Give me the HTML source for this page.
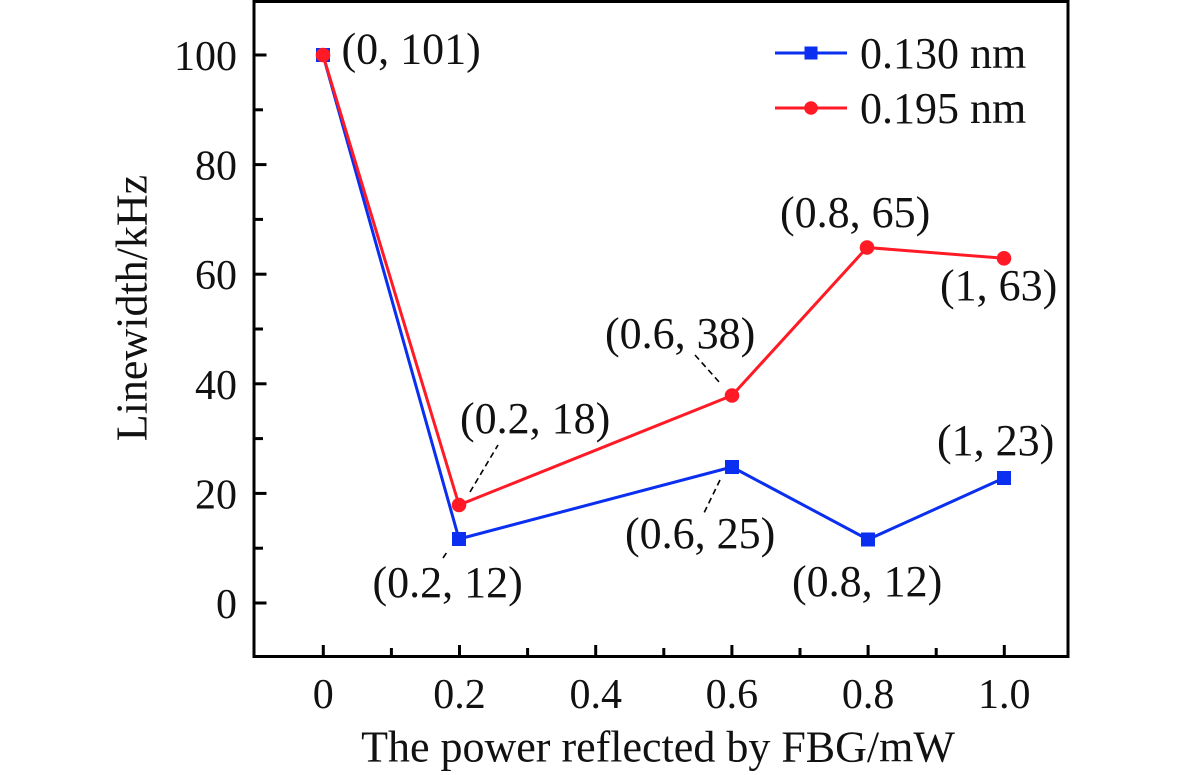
<!DOCTYPE html>
<html>
<head>
<meta charset="utf-8">
<style>
html,body{margin:0;padding:0;background:#fff;}
svg{display:block;}
text{font-family:"Liberation Serif","Times New Roman",serif;fill:#111;}
</style>
</head>
<body>
<svg width="1181" height="775" viewBox="0 0 1181 775" xmlns="http://www.w3.org/2000/svg">
<rect width="1181" height="775" fill="#fff"/>
<!-- axes box -->
<rect x="254" y="1.5" width="814" height="655" fill="none" stroke="#000" stroke-width="3"/>
<!-- y ticks -->
<g stroke="#000" stroke-width="3">
<line x1="254" y1="55" x2="266.5" y2="55"/>
<line x1="254" y1="109.8" x2="263" y2="109.8"/>
<line x1="254" y1="164.6" x2="266.5" y2="164.6"/>
<line x1="254" y1="219.4" x2="263" y2="219.4"/>
<line x1="254" y1="274.2" x2="266.5" y2="274.2"/>
<line x1="254" y1="329" x2="263" y2="329"/>
<line x1="254" y1="383.8" x2="266.5" y2="383.8"/>
<line x1="254" y1="438.6" x2="263" y2="438.6"/>
<line x1="254" y1="493.4" x2="266.5" y2="493.4"/>
<line x1="254" y1="548.2" x2="263" y2="548.2"/>
<line x1="254" y1="603" x2="266.5" y2="603"/>
<!-- x ticks -->
<line x1="323.3" y1="656.5" x2="323.3" y2="645"/>
<line x1="391.4" y1="656.5" x2="391.4" y2="648"/>
<line x1="459.5" y1="656.5" x2="459.5" y2="645"/>
<line x1="527.6" y1="656.5" x2="527.6" y2="648"/>
<line x1="595.7" y1="656.5" x2="595.7" y2="645"/>
<line x1="663.8" y1="656.5" x2="663.8" y2="648"/>
<line x1="731.9" y1="656.5" x2="731.9" y2="645"/>
<line x1="800" y1="656.5" x2="800" y2="648"/>
<line x1="868.1" y1="656.5" x2="868.1" y2="645"/>
<line x1="936.2" y1="656.5" x2="936.2" y2="648"/>
<line x1="1004.3" y1="656.5" x2="1004.3" y2="645"/>
</g>
<!-- y tick labels -->
<g font-size="42" text-anchor="end">
<text x="237" y="70">100</text>
<text x="237" y="179.6">80</text>
<text x="237" y="289.2">60</text>
<text x="237" y="398.8">40</text>
<text x="237" y="508.4">20</text>
<text x="237" y="618">0</text>
</g>
<!-- x tick labels -->
<g font-size="42" text-anchor="middle">
<text x="323.3" y="708">0</text>
<text x="459.5" y="708">0.2</text>
<text x="595.7" y="708">0.4</text>
<text x="731.9" y="708">0.6</text>
<text x="868.1" y="708">0.8</text>
<text x="1004.3" y="708">1.0</text>
</g>
<!-- axis titles -->
<text x="658" y="761.5" font-size="44" text-anchor="middle">The power reflected by FBG/mW</text>
<text transform="translate(146.5,308) rotate(-90)" font-size="44" text-anchor="middle">Linewidth/kHz</text>
<!-- series blue -->
<polyline points="323,55 459,539 732,467 868,539.5 1004,478" fill="none" stroke="#0a2ff0" stroke-width="3" stroke-linejoin="round"/>
<g fill="#0a2ff0">
<rect x="316" y="48" width="14" height="14"/>
<rect x="452" y="532" width="14" height="14"/>
<rect x="725" y="460" width="14" height="14"/>
<rect x="861" y="532.5" width="14" height="14"/>
<rect x="997" y="471" width="14" height="14"/>
</g>
<!-- series red -->
<polyline points="323,55 459,505 732,395.5 867,247.5 1004,258.3" fill="none" stroke="#ff1a26" stroke-width="3" stroke-linejoin="round"/>
<g fill="#ff1a26">
<circle cx="323" cy="55" r="7.3"/>
<circle cx="459" cy="505" r="7.3"/>
<circle cx="732" cy="395.5" r="7.3"/>
<circle cx="867" cy="247.5" r="7.3"/>
<circle cx="1004" cy="258.3" r="7.3"/>
</g>
<!-- leader lines -->
<g stroke="#000" stroke-width="1.6" stroke-dasharray="6,4" fill="none">
<line x1="470" y1="492" x2="498" y2="445"/>
<line x1="443" y1="558" x2="447" y2="552"/>
<line x1="720" y1="480" x2="703" y2="515"/>
<line x1="695" y1="355" x2="720" y2="383"/>
</g>
<!-- annotations -->
<g font-size="44">
<text x="341.5" y="63.5">(0, 101)</text>
<text x="460" y="433">(0.2, 18)</text>
<text x="372.5" y="597">(0.2, 12)</text>
<text x="625" y="548">(0.6, 25)</text>
<text x="605" y="348">(0.6, 38)</text>
<text x="780" y="227">(0.8, 65)</text>
<text x="792" y="596">(0.8, 12)</text>
<text x="940" y="300">(1, 63)</text>
<text x="937" y="455">(1, 23)</text>
</g>
<!-- legend -->
<line x1="775" y1="53" x2="847" y2="53" stroke="#0a2ff0" stroke-width="3"/>
<rect x="804.5" y="46.5" width="13" height="13" fill="#0a2ff0"/>
<text x="860" y="68" font-size="44">0.130 nm</text>
<line x1="775" y1="108" x2="847" y2="108" stroke="#ff1a26" stroke-width="3"/>
<circle cx="811" cy="108" r="6.8" fill="#ff1a26"/>
<text x="860" y="123" font-size="44">0.195 nm</text>
</svg>
</body>
</html>
